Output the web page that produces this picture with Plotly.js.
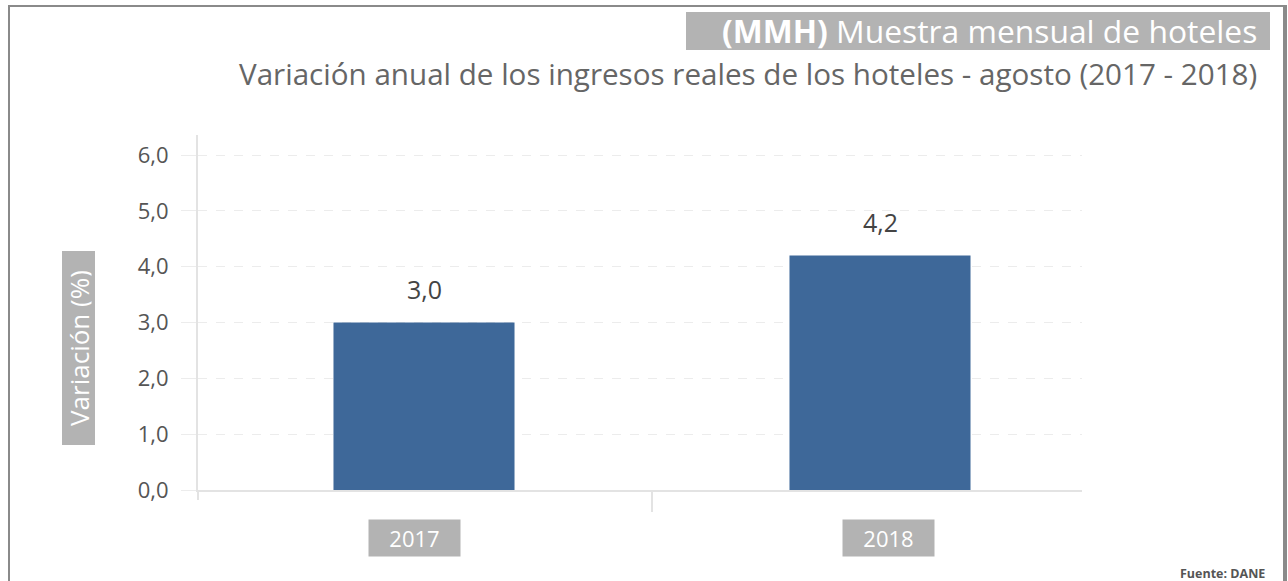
<!DOCTYPE html>
<html>
<head>
<meta charset="utf-8">
<script src="https://cdn.plot.ly/plotly-3.0.1.min.js"></script>
<style>
  html, body { margin: 0; padding: 0; background: #fff; width: 1288px; height: 581px; overflow: hidden; }
  #chart { position: absolute; left: 0; top: 0; width: 1288px; height: 581px; }
  #frame { position: absolute; left: 8px; top: 5px; width: 1273px; height: 600px;
           border-left: 2px solid #8a8a8a; border-top: 2px solid #8a8a8a; border-right: 4px solid #8a8a8a;
           pointer-events: none; }
</style>
</head>
<body>
<div id="chart"></div>
<div id="frame"></div>
<script>
const categories = ['2017', '2018'];
const values = [3.0, 4.2];
const yTicks = [0, 1, 2, 3, 4, 5, 6];
const titleBold = '(MMH)';
const titleRest = ' Muestra mensual de hoteles';
const subtitle = 'Variación anual de los ingresos reales de los hoteles - agosto (2017 - 2018)';
const yTitle = 'Variación (%)';
const source = 'Fuente: DANE';

const fmt = v => v.toFixed(1).replace('.', ',');
const FONT = 'Open Sans, sans-serif';

// plot area in pixels
const L = 198, R = 1082, T = 135, B = 490;
const W = R - L, H = B - T;
const px = x => (x - L) / W;
const py = y => (B - y) / H;

const xIdx = categories.map((c, i) => i);

const trace = {
  type: 'bar',
  x: xIdx,
  y: values,
  width: 0.397,
  marker: { color: '#3e6899', line: { width: 0 } },
  hoverinfo: 'skip'
};

const annotations = [];
values.forEach((v, i) => {
  annotations.push({
    x: xIdx[i], y: v, xref: 'x', yref: 'y',
    text: fmt(v), showarrow: false, yanchor: 'middle', yshift: 34,
    font: { family: FONT, size: 25, color: '#444' }
  });
});
const catShift = [-10, 8];
categories.forEach((c, i) => {
  annotations.push({
    x: xIdx[i], y: py(538), xref: 'x', yref: 'paper',
    text: c, showarrow: false, xanchor: 'center', yanchor: 'middle',
    xshift: catShift[i],
    width: 85, height: 30, borderpad: 3,
    bgcolor: '#b3b3b3',
    font: { family: FONT, size: 22, color: '#fff' }
  });
});
annotations.push({
  x: px(1259), y: py(31), xref: 'paper', yref: 'paper',
  xanchor: 'right', yanchor: 'middle', showarrow: false,
  text: '<b>' + titleBold + '</b>' + titleRest,
  font: { family: FONT, size: 31.8, color: '#fff' }
});
annotations.push({
  x: px(1259), y: py(73), xref: 'paper', yref: 'paper',
  xanchor: 'right', yanchor: 'middle', showarrow: false,
  text: subtitle,
  font: { family: FONT, size: 29.6, color: '#666' }
});
annotations.push({
  x: px(78), y: py(348.5), xref: 'paper', yref: 'paper',
  xanchor: 'center', yanchor: 'middle', showarrow: false,
  text: yTitle, textangle: -90,
  width: 187, height: 26, borderpad: 3,
  bgcolor: '#b3b3b3',
  font: { family: FONT, size: 26, color: '#fff' }
});
annotations.push({
  x: px(1267), y: py(573), xref: 'paper', yref: 'paper',
  xanchor: 'right', yanchor: 'middle', showarrow: false,
  text: '<b>' + source + '</b>',
  font: { family: FONT, size: 12.5, color: '#555' }
});

const shapes = [
  { type: 'rect', xref: 'paper', yref: 'paper',
    x0: px(686), x1: px(1270), y0: py(50), y1: py(12),
    fillcolor: '#b3b3b3', line: { width: 0 }, layer: 'below' },
  // y axis line extension below the zero line
  { type: 'line', xref: 'paper', yref: 'paper', x0: 0, x1: 0,
    ysizemode: 'pixel', yanchor: 0, y0: -10, y1: 0,
    line: { color: '#e3e3e3', width: 2 } }
];

const layout = {
  width: 1288, height: 581,
  margin: { l: L, r: 1288 - R, t: T, b: 581 - B, pad: 0 },
  paper_bgcolor: 'rgba(0,0,0,0)', plot_bgcolor: 'rgba(0,0,0,0)',
  showlegend: false,
  font: { family: FONT, color: '#555' },
  xaxis: {
    range: [-(424 - L) / 456, (R - 424) / 456],
    tickvals: [0.5], ticktext: [''],
    ticks: 'outside', ticklen: 20, tickwidth: 2, tickcolor: '#e3e3e3',
    showgrid: false, zeroline: false,
    showline: true, linecolor: '#e3e3e3', linewidth: 2,
    fixedrange: true
  },
  yaxis: {
    range: [0, H / 55.83],
    tickvals: yTicks, ticktext: yTicks.map(fmt),
    ticks: 'outside', ticklen: 15, tickwidth: 1, tickcolor: '#ececec',
    ticklabelstandoff: 8,
    tickfont: { family: FONT, size: 22, color: '#555' },
    showgrid: true, gridcolor: '#ececec', griddash: 'dash', gridwidth: 1,
    zeroline: false,
    showline: true, linecolor: '#e3e3e3', linewidth: 2,
    fixedrange: true
  },
  annotations: annotations,
  shapes: shapes
};

Plotly.newPlot('chart', [trace], layout, { staticPlot: true, displayModeBar: false });
</script>
</body>
</html>
